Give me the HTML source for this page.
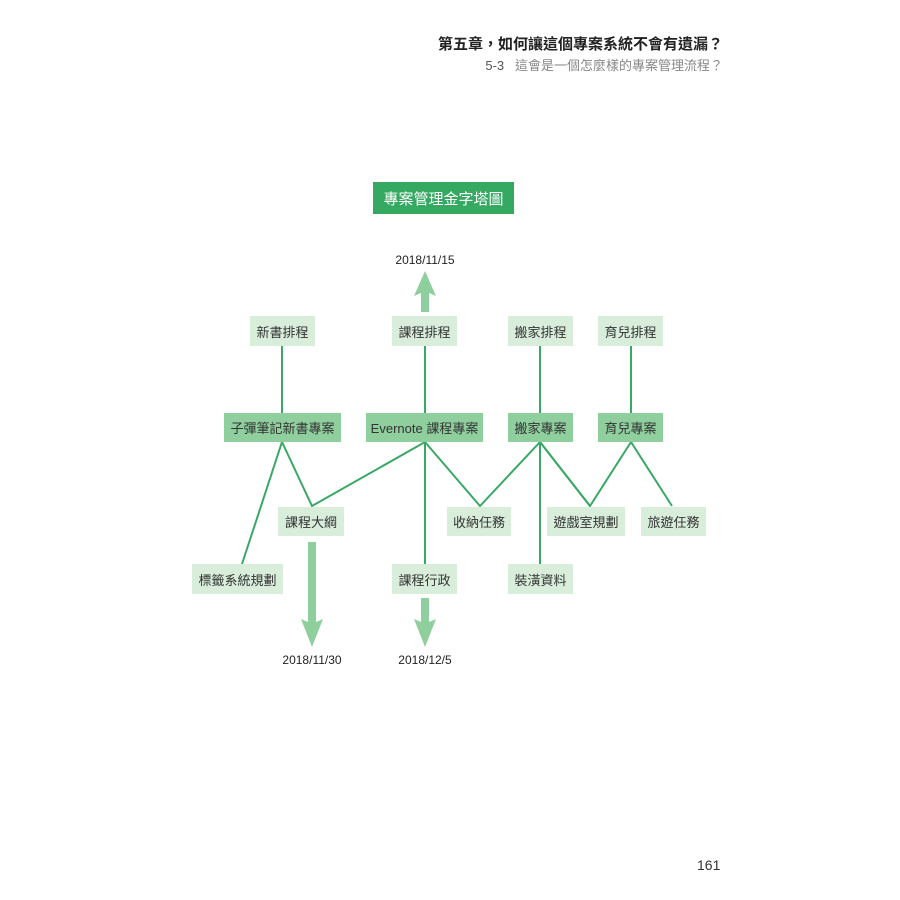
<!DOCTYPE html>
<html><head><meta charset="utf-8"><style>
body{margin:0;background:#fff;}
.p{position:relative;width:900px;height:900px;font-family:"Liberation Sans","Noto Sans CJK TC",sans-serif;}
.b{position:absolute;display:flex;align-items:center;justify-content:center;font-size:13px;color:#333;}
.d{background:#8fcf9d;}
.l{background:#d8eedb;}
.t{position:absolute;font-size:12px;color:#222;transform:translateX(-50%);white-space:nowrap;}
svg{position:absolute;left:0;top:0;}
</style></head><body><div class="p">
<div style="position:absolute;right:177px;top:33px;font-size:15px;font-weight:bold;color:#222;">第五章，如何讓這個專案系統不會有遺漏？</div>
<div style="position:absolute;right:177px;top:55px;font-size:13px;color:#888;"><span style="color:#555">5-3</span>&nbsp;&nbsp;&nbsp;這會是一個怎麼樣的專案管理流程？</div>
<div class="b" style="left:373px;top:182px;width:141px;height:32px;background:#35a862;color:#fff;font-size:15px;">專案管理金字塔圖</div>
<svg width="900" height="900">
<g stroke="#3aa865" stroke-width="2" fill="none">
<line x1="282" y1="346" x2="282" y2="413"/><line x1="425" y1="346" x2="425" y2="413"/>
<line x1="540" y1="346" x2="540" y2="413"/><line x1="631" y1="346" x2="631" y2="413"/>
<polyline points="242,564 282,442 312,506 425,442 480,506 540,442 590,506 631,442 672,506"/>
<line x1="425" y1="442" x2="425" y2="564"/><line x1="540" y1="442" x2="540" y2="564"/>
<line x1="540" y1="442" x2="590" y2="506"/>
</g>
<g fill="#8fcf9d">
<polygon points="425,271 436,296 429,293 429,312 421,312 421,293 414,296"/>
<polygon points="308,542 316,542 316,622 323,619 312,647 301,619 308,622"/>
<polygon points="421,598 429,598 429,622 436,619 425,647 414,619 421,622"/>
</g>
</svg>
<div class="t" style="left:425px;top:253px;">2018/11/15</div>
<div class="t" style="left:312px;top:653px;">2018/11/30</div>
<div class="t" style="left:425px;top:653px;">2018/12/5</div>
<div class="b l" style="left:250px;top:316px;width:65px;height:30px;">新書排程</div>
<div class="b l" style="left:392px;top:316px;width:65px;height:30px;">課程排程</div>
<div class="b l" style="left:508px;top:316px;width:65px;height:30px;">搬家排程</div>
<div class="b l" style="left:598px;top:316px;width:65px;height:30px;">育兒排程</div>
<div class="b d" style="left:224px;top:413px;width:117px;height:29px;">子彈筆記新書專案</div>
<div class="b d" style="left:366px;top:413px;width:117px;height:29px;">Evernote 課程專案</div>
<div class="b d" style="left:508px;top:413px;width:65px;height:29px;">搬家專案</div>
<div class="b d" style="left:598px;top:413px;width:65px;height:29px;">育兒專案</div>
<div class="b l" style="left:278px;top:507px;width:66px;height:29px;">課程大綱</div>
<div class="b l" style="left:447px;top:507px;width:64px;height:29px;">收納任務</div>
<div class="b l" style="left:547px;top:507px;width:78px;height:29px;">遊戲室規劃</div>
<div class="b l" style="left:641px;top:507px;width:65px;height:29px;">旅遊任務</div>
<div class="b l" style="left:192px;top:564px;width:91px;height:30px;">標籤系統規劃</div>
<div class="b l" style="left:392px;top:564px;width:65px;height:30px;">課程行政</div>
<div class="b l" style="left:508px;top:564px;width:65px;height:30px;">裝潢資料</div>
<div style="position:absolute;left:697px;top:857px;font-size:14px;color:#333;">161</div>
</div></body></html>
